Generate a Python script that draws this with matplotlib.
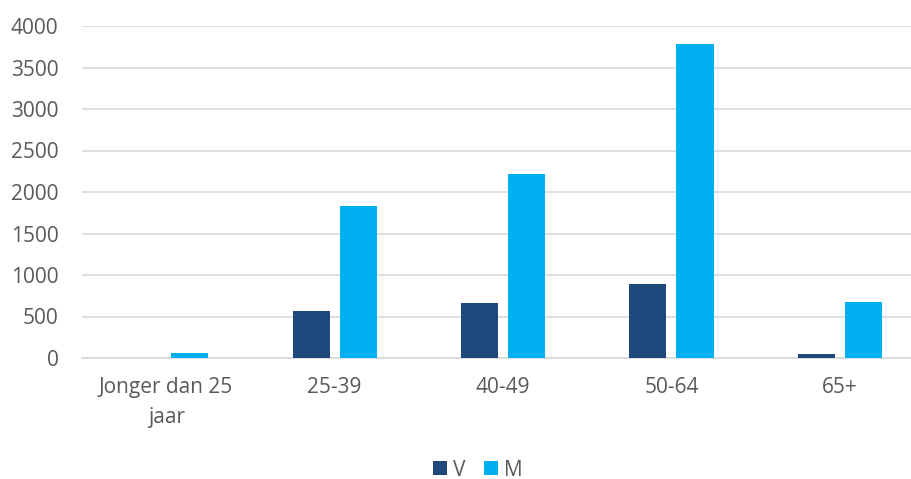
import matplotlib
matplotlib.use("Agg")
import matplotlib.pyplot as plt
import numpy as np

plt.rcParams['font.family'] = ['Open Sans', 'DejaVu Sans']

categories = ["Jonger dan 25\njaar", "25-39", "40-49", "50-64", "65+"]
series_v = [5, 568, 665, 886, 52]
series_m = [60, 1837, 2211, 3779, 680]
y_ticks = [0, 500, 1000, 1500, 2000, 2500, 3000, 3500, 4000]

color_v = "#1F497D"
color_m = "#00B0F0"
text_color = "#595959"
fs = 15

fig = plt.figure(figsize=(9.12, 4.79), dpi=100)
ax = fig.add_axes([82 / 912, 121 / 479, 842 / 912, 332 / 479])

x = np.arange(len(categories))
w = 0.22
off = 0.14
ax.bar(x - off, series_v, width=w, color=color_v, label="V", zorder=3)
ax.bar(x + off, series_m, width=w, color=color_m, label="M", zorder=3)

ax.set_xlim(-0.5, len(categories) - 0.5)
ax.set_ylim(0, 4000)
ax.set_yticks(y_ticks)
ax.set_xticks(x)
ax.set_xticklabels(categories)

ax.yaxis.grid(True, color="#D9D9D9", linewidth=1.2, zorder=0)
ax.set_axisbelow(True)
for s in ["top", "right", "left"]:
    ax.spines[s].set_visible(False)
ax.spines["bottom"].set_color("#D9D9D9")
ax.spines["bottom"].set_linewidth(1.2)

ax.tick_params(axis="y", length=0, pad=17, labelsize=fs, labelcolor=text_color)
ax.tick_params(axis="x", length=0, pad=14, labelsize=fs, labelcolor=text_color)
for lbl in ax.get_xticklabels():
    lbl.set_linespacing(1.55)

fig.legend(handles=ax.containers, labels=["V", "M"], loc="center",
           bbox_to_anchor=(478 / 912, 1 - 470 / 479), ncol=2, frameon=False,
           fontsize=fs, labelcolor=text_color, handlelength=0.65, handleheight=0.65,
           handletextpad=0.3, columnspacing=0.9, borderpad=0.1)

fig.savefig("out.png", dpi=100)
